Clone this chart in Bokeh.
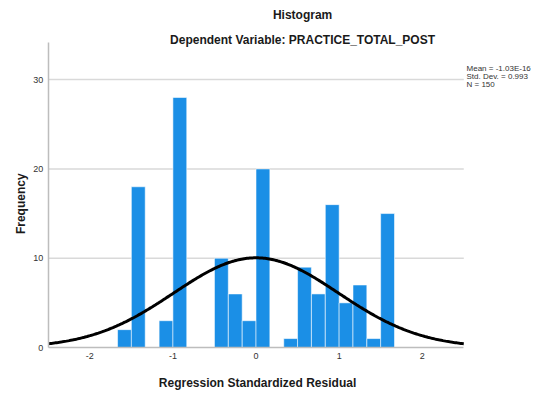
import math
import numpy as np
from bokeh.plotting import figure
from bokeh.models import Label, FixedTicker, ColumnDataSource
from bokeh.embed import file_html
from bokeh.resources import INLINE

# ---- data ----
bin_centers = [-1.583, -1.417, -1.083, -0.917, -0.417, -0.250, -0.083, 0.083,
               0.417, 0.583, 0.750, 0.917, 1.083, 1.250, 1.417, 1.583]
counts = [2, 18, 3, 28, 10, 6, 3, 20, 1, 9, 6, 16, 5, 7, 1, 15]
bin_width = 1 / 6
mean_val = -1.03e-16
std_val = 0.993
n_val = 150
x_ticks = [-2, -1, 0, 1, 2]
x_tick_labels = ["-2", "-1", "0", "1", "2"]
y_ticks = [0, 10, 20, 30]
y_tick_labels = ["0", "10", "20", "30"]
x_axis_min, x_axis_max = -2.5, 2.5
y_axis_min, y_axis_max = 0, 34.15
title_text = "Histogram"
subtitle_text = "Dependent Variable: PRACTICE_TOTAL_POST"
x_label = "Regression Standardized Residual"
y_label = "Frequency"
stats_lines = ["Mean = -1.03E-16", "Std. Dev. = 0.993", "N = 150"]

FONT = "Liberation Sans"
TXT = "#1a1a1a"

# frame covers the whole canvas; axes are pinned at fixed locations
p = figure(width=534, height=392, x_range=(-3.075, 3.351), y_range=(-5.039, 38.86),
           output_backend="svg", toolbar_location=None,
           min_border_left=0, min_border_right=0,
           min_border_top=0, min_border_bottom=0)
p.outline_line_color = None
p.background_fill_color = "white"
p.border_fill_color = "white"
p.xgrid.visible = False
p.ygrid.visible = False

# horizontal reference grid lines, limited to the axis extent
grid_y = [t for t in y_ticks if t > y_axis_min]
p.segment(x0=[x_axis_min] * len(grid_y), x1=[x_axis_max] * len(grid_y),
          y0=grid_y, y1=grid_y, line_color="#d9d9d9", line_width=1.5, level="underlay")

# axes
xa, ya = p.xaxis[0], p.yaxis[0]
xa.fixed_location = y_axis_min
ya.fixed_location = x_axis_min
xa.bounds = (x_axis_min, x_axis_max)
ya.bounds = (y_axis_min, y_axis_max)
xa.ticker = FixedTicker(ticks=x_ticks)
ya.ticker = FixedTicker(ticks=y_ticks)
xa.major_label_overrides = {t: s for t, s in zip(x_ticks, x_tick_labels)}
ya.major_label_overrides = {t: s for t, s in zip(y_ticks, y_tick_labels)}
for ax in (xa, ya):
    ax.axis_line_color = "#bdbdbd"
    ax.axis_line_width = 1.5
    ax.major_tick_line_color = None
    ax.minor_tick_line_color = None
    ax.major_tick_in = 0
    ax.major_tick_out = 0
    ax.major_label_text_font = FONT
    ax.major_label_text_font_size = "9px"
    ax.major_label_text_color = "#333333"
    ax.major_label_standoff = 5

# bars
src = ColumnDataSource(dict(x=bin_centers, top=counts))
p.vbar(x="x", top="top", bottom=0, width=bin_width, source=src,
       fill_color="#1b8fe6", line_color="white", line_alpha=0.55, line_width=1)

# normal curve
xs = np.linspace(x_axis_min, x_axis_max, 300)
ys = n_val * bin_width * np.exp(-0.5 * ((xs - mean_val) / std_val) ** 2) / (std_val * math.sqrt(2 * math.pi))
p.line(xs, ys, line_color="black", line_width=3)

# texts
def lab(x, y, text, size="12px", bold=True, align="center", angle=0.0, color=TXT):
    p.add_layout(Label(x=x, y=y, text=text, text_font=FONT, text_font_size=size,
                       text_font_style="bold" if bold else "normal",
                       text_align=align, text_baseline="middle",
                       angle=angle, text_color=color))

lab(0.56, 37.29, title_text)
lab(0.56, 34.43, subtitle_text)
lab(0.018, -3.92, x_label)
lab(-2.834, 16.1, y_label, angle=math.pi / 2)
for i, line in enumerate(stats_lines):
    lab(2.533, 31.3 - i * 0.9, line, size="8px", bold=False, align="left", color="#333333")

open("out.html", "w").write(file_html(p, INLINE))
